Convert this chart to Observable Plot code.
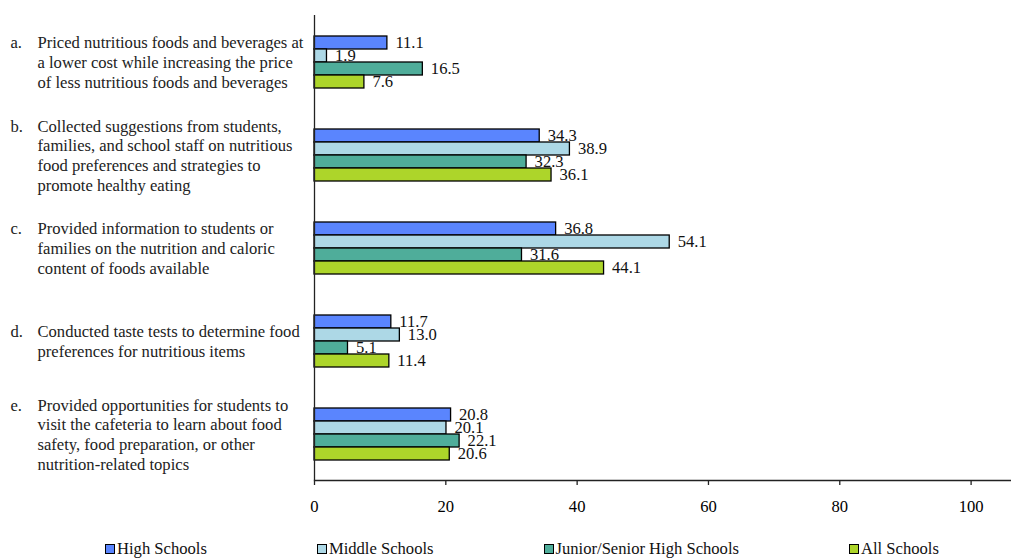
<!DOCTYPE html>
<html>
<head>
<meta charset="utf-8">
<script src="https://cdn.jsdelivr.net/npm/d3@7"></script>
<script src="https://cdn.jsdelivr.net/npm/@observablehq/plot@0.6"></script>
<style>
  body { margin: 0; background: #fff; font-family: "Liberation Serif", "Times New Roman", serif; }
  #chart svg { display: block; }
  .legend { display: flex; align-items: center; padding-left: 105px; margin-top: 9px; height: 20px; font-size: 16.6px; color: #111; gap: 110px; }
  .legend .item { display: flex; align-items: center; white-space: nowrap; }
  .legend .sw { width: 8px; height: 8px; border: 1.5px solid #000; margin-right: 2px; }
</style>
</head>
<body>
<div id="chart"></div>
<script>
const questions = ["a", "b", "c", "d", "e"];
const letters = ["a.", "b.", "c.", "d.", "e."];
const labels = [
  "Priced nutritious foods and beverages at\na lower cost while increasing the price\nof less nutritious foods and beverages",
  "Collected suggestions from students,\nfamilies, and school staff on nutritious\nfood preferences and strategies to\npromote healthy eating",
  "Provided information to students or\nfamilies on the nutrition and caloric\ncontent of foods available",
  "Conducted taste tests to determine food\npreferences for nutritious items",
  "Provided opportunities for students to\nvisit the cafeteria to learn about food\nsafety, food preparation, or other\nnutrition-related topics"
];
const series = ["High Schools", "Middle Schools", "Junior/Senior High Schools", "All Schools"];
const highSchools = [11.1, 34.3, 36.8, 11.7, 20.8];
const middleSchools = [1.9, 38.9, 54.1, 13.0, 20.1];
const juniorSenior = [16.5, 32.3, 31.6, 5.1, 22.1];
const allSchools = [7.6, 36.1, 44.1, 11.4, 20.6];
const colors = ["#5a85fe", "#add8e6", "#4fad9a", "#add52a"];
const xTicks = [0, 20, 40, 60, 80, 100];

const seriesValues = [highSchools, middleSchools, juniorSenior, allSchools];
const rows = [];
questions.forEach((q, i) => {
  series.forEach((s, j) => rows.push({q, s, v: seriesValues[j][i]}));
});
// the letter is padded with empty lines so that it sits on the body's first line
const qData = questions.map((q, i) => {
  const n = labels[i].split("\n").length;
  return {q, letter: letters[i] + "\n".repeat(n - 1), body: labels[i]};
});

const font = "Liberation Serif, Times New Roman, serif";
const fs = 16.6;

const chart = Plot.plot({
  width: 1011,
  height: 530,
  marginTop: 14,
  marginBottom: 49,
  marginLeft: 314,
  marginRight: 1,
  style: {fontFamily: font, fontSize: fs + "px", color: "#000", background: "#fff"},
  x: {domain: [0, 106]},
  y: {domain: series, axis: null, paddingInner: 0, paddingOuter: 1.46},
  fy: {domain: questions, axis: null, padding: 0},
  color: {domain: series, range: colors},
  marks: [
    Plot.barX(rows, {x: "v", y: "s", fy: "q", fill: "s", stroke: "#000", strokeWidth: 1.3}),
    Plot.text(rows, {x: "v", y: "s", fy: "q", text: d => d.v.toFixed(1), dx: 8, textAnchor: "start", fontSize: fs, fill: "#111"}),
    Plot.ruleX([0], {stroke: "#222", strokeWidth: 1.3}),
    Plot.frame({anchor: "bottom", facetAnchor: "bottom", stroke: "#222", strokeWidth: 1.3}),
    Plot.axisX({ticks: xTicks, tickSize: 5, tickPadding: 15, fontSize: fs, stroke: "#222", strokeWidth: 1.3, label: null, tickFormat: d => String(d)}),
    Plot.text(qData, {fy: "q", frameAnchor: "left", text: "letter", dx: -304, textAnchor: "start", lineHeight: 1.2, fontSize: fs, fill: "#222"}),
    Plot.text(qData, {fy: "q", frameAnchor: "left", text: "body", dx: -277, textAnchor: "start", lineHeight: 1.2, fontSize: fs, fill: "#222"})
  ]
});
document.getElementById("chart").appendChild(chart);

const legend = document.createElement("div");
legend.className = "legend";
series.forEach((s, i) => {
  const item = document.createElement("div");
  item.className = "item";
  const sw = document.createElement("span");
  sw.className = "sw";
  sw.style.background = colors[i];
  const t = document.createElement("span");
  t.textContent = s;
  item.appendChild(sw);
  item.appendChild(t);
  legend.appendChild(item);
});
document.body.appendChild(legend);
</script>
</body>
</html>
